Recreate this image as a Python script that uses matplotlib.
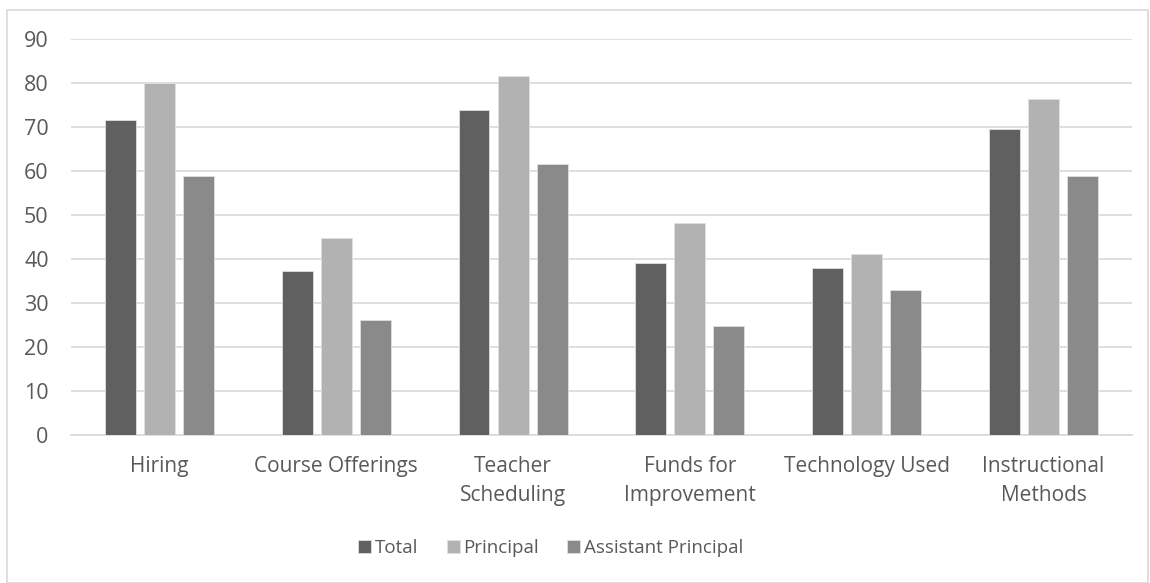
import matplotlib.pyplot as plt
import numpy as np
from matplotlib.patches import Rectangle

# 数据
categories = ['Hiring', 'Course Offerings', 'Teacher\nScheduling', 'Funds for\nImprovement',
              'Technology Used', 'Instructional\nMethods']
total = [71.6, 37.3, 73.7, 39.0, 37.9, 69.5]
principal = [79.9, 44.6, 81.6, 48.2, 41.1, 76.3]
assistant = [58.9, 26.0, 61.5, 24.6, 32.9, 58.9]
series_names = ['Total', 'Principal', 'Assistant Principal']
colors = ['#606060', '#b2b2b2', '#8a8a8a']

plt.rcParams['font.family'] = ['Open Sans', 'DejaVu Sans']
text_color = '#595959'
fs = 15

fig = plt.figure(figsize=(11.5, 5.83), dpi=100)
ax = fig.add_axes([0.0617, 0.2544, 0.9226, 0.6792])

x = np.arange(len(categories))
width = 0.175
step = 0.2206
for k, vals in enumerate([total, principal, assistant]):
    ax.bar(x + (k - 1) * step, vals, width, color=colors[k], edgecolor='#e0e0e0',
           linewidth=0.6, label=series_names[k], zorder=3)

ax.set_xlim(-0.5, len(categories) - 0.5)
ax.set_ylim(0, 90)
ax.set_yticks(range(0, 91, 10))
ax.grid(axis='y', color='#d9d9d9', linewidth=1.2, zorder=0)
ax.set_xticks(x)
ax.set_xticklabels(categories, fontsize=fs, color=text_color, linespacing=1.55)
ax.tick_params(axis='y', length=0, pad=16, labelsize=15.5, labelcolor=text_color)
ax.tick_params(axis='x', length=0, pad=15)
for s in ['top', 'right', 'left']:
    ax.spines[s].set_visible(False)
ax.spines['bottom'].set_color('#d9d9d9')
ax.spines['bottom'].set_linewidth(1.2)

leg = fig.legend(loc='center', bbox_to_anchor=(0.479, 0.06), ncol=3, frameon=False,
                 fontsize=13.5, handlelength=0.7, handleheight=0.7, handletextpad=0.2,
                 columnspacing=1.5)
for t in leg.get_texts():
    t.set_color(text_color)

# 外框
fig.patches.append(Rectangle((0.0061, 0.0), 0.9922, 0.983, transform=fig.transFigure,
                             fill=False, edgecolor='#d9d9d9', linewidth=1.2))

plt.savefig('out.png', dpi=100)
